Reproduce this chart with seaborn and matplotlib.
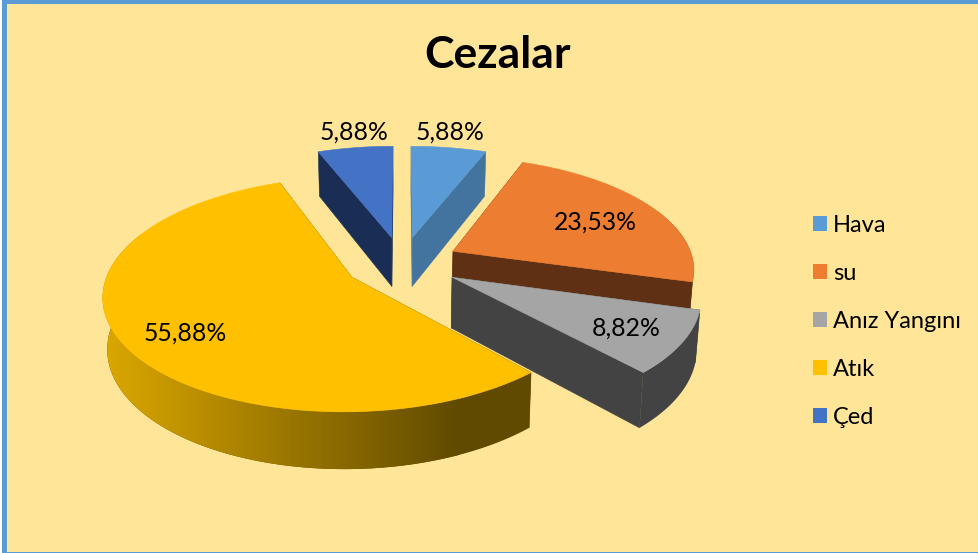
import numpy as np
import matplotlib
matplotlib.use("Agg")
import matplotlib.pyplot as plt
from matplotlib.colors import LinearSegmentedColormap
from matplotlib.patches import Polygon, Patch, Rectangle
import seaborn as sns

categories = ["Hava", "su", "Anız Yangını", "Atık", "Çed"]
values = [5.88, 23.53, 8.82, 55.88, 5.88]
labels = ["5,88%", "23,53%", "8,82%", "55,88%", "5,88%"]
top_colors = ["#5B9BD5", "#ED7D31", "#A5A5A5", "#FFC000", "#4472C4"]
wall_colors = ["#43749F", "#5F3013", "#434343", "#604A00", "#1A2E55"]
label_radius = [1.03, 0.71, 0.77, 0.74, 1.03]
label_dy = [-13, 3, 1, 8, -13]

BG = "#FFE597"
BORDER = "#5B9BD5"
CX, CY, A, B, K = 402, 263, 241, 111, 0.142
EXPLODE, DEPTH, BOTTOM_SCALE = 0.24, 50, 0.985

sns.set_theme(style="white")
plt.rcParams["font.family"] = ["Lato", "DejaVu Sans"]
palette = sns.color_palette(top_colors)

fig = plt.figure(figsize=(9.79, 5.53), dpi=100, facecolor=BG)
ax = fig.add_axes([0, 0, 1, 1])
ax.axis("off")


def project(u, v, lower=False):
    u, v = np.atleast_1d(u), np.atleast_1d(v)
    w = 1 / (1 + K * v)
    s = BOTTOM_SCALE if lower else 1
    x = CX + A * u * w * s
    y = CY - B * v * w * s + (DEPTH * w if lower else 0)
    return np.column_stack([x, y])


fractions = np.array(values) / sum(values)
edges = np.concatenate([[0], np.cumsum(fractions)]) * 2 * np.pi
mid = (edges[:-1] + edges[1:]) / 2
order = [4, 0, 1, 2, 3]
atik_cmap = LinearSegmentedColormap.from_list("atik", ["#DCA800", "#604A00"])

for i in order:
    t0, t1, tm = edges[i], edges[i + 1], mid[i]
    ou, ov = EXPLODE * np.sin(tm), EXPLODE * np.cos(tm)
    th = np.linspace(t0, t1, 200)
    ru, rv = ou + np.sin(th), ov + np.cos(th)
    top_rim = project(ru, rv)
    low_rim = project(ru, rv, lower=True)
    apex_t = project(ou, ov)
    apex_l = project(ou, ov, lower=True)
    # radial walls
    for k in (0, -1):
        ax.add_patch(Polygon([apex_t[0], top_rim[k], low_rim[k], apex_l[0]],
                             closed=True, fc=wall_colors[i], ec=wall_colors[i], lw=0.4))
    # outer rim: the front part; Atık carries a horizontal gradient
    front = np.cos(th) <= 0.4
    if front.any():
        outline = np.vstack([top_rim[front], low_rim[front][::-1]])
        rim = Polygon(outline, closed=True, fc=wall_colors[i], ec="none")
        ax.add_patch(rim)
        if categories[i] == "Atık":
            grad = ax.imshow(np.linspace(0, 1, 256)[None, :], cmap=atik_cmap, aspect="auto",
                             extent=(100, 460, 480, 280), zorder=rim.get_zorder() + 0.1)
            grad.set_clip_path(Polygon(outline, closed=True, transform=ax.transData))
    ax.add_patch(Polygon(np.vstack([apex_t, top_rim]), closed=True,
                         fc=palette[i], ec=palette[i], lw=0.4, zorder=1.5))

ax.set_xlim(0, 979)
ax.set_ylim(553, 0)

for i, r in enumerate(label_radius):
    R = EXPLODE + r
    p = project(R * np.sin(mid[i]), R * np.cos(mid[i]))[0]
    ax.text(p[0], p[1] + label_dy[i], labels[i], ha="center", va="center",
            fontsize=17.8, color="black", zorder=4)

ax.text(498, 55, "Cezalar", ha="center", va="center", fontsize=32, fontweight="bold", color="black")

handles = [Patch(fc=c, ec="none") for c in palette]
ax.legend(handles, categories, loc="center left", bbox_to_anchor=(813, 321.5),
          bbox_transform=ax.transData, frameon=False, fontsize=17,
          handlelength=0.6, handleheight=0.6, handletextpad=0.26,
          labelspacing=1.145, borderpad=0, borderaxespad=0, labelcolor="black")

ax.add_patch(Rectangle((0, 0), 979, 3.5, fc=BORDER, ec="none", zorder=5))
ax.add_patch(Rectangle((2, 0), 5.5, 553, fc=BORDER, ec="none", zorder=5))
ax.add_patch(Rectangle((0, 0), 2.5, 553, fc="white", ec="none", zorder=6))
ax.add_patch(Rectangle((0, 551.5), 979, 1.5, fc=BORDER, ec="none", zorder=5))

fig.savefig("out.png", dpi=100, facecolor=fig.get_facecolor())
